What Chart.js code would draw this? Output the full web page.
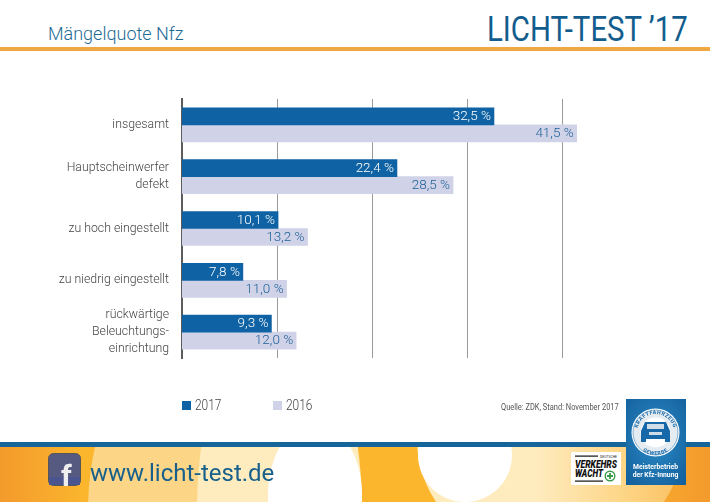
<!DOCTYPE html>
<html>
<head>
<meta charset="utf-8">
<script src="https://cdn.jsdelivr.net/npm/chart.js@4"></script>
<style>
    html, body { margin: 0; padding: 0; background: #fff; }
    #page { position: relative; width: 710px; height: 502px; overflow: hidden; font-family: Roboto, sans-serif; }
    #page div, #page span { position: absolute; white-space: nowrap; }
    canvas { position: absolute; left: 0; top: 0; }
    #title { left: 48px; top: 23px; font-size: 18px; color: #1d6a94; font-weight: 300; }
    #brand { left: 487px; top: 9px; font-size: 35px; font-weight: 400; color: #125d8e; transform: scaleX(0.84); transform-origin: left top; }
    #rule { left: 0; top: 47px; width: 710px; height: 4px; background: #f0a842; }
    #source { left: 501px; top: 402px; font-size: 9px; color: #555; transform: scaleX(0.83); transform-origin: left top; }
    #footer { left: 0; top: 446px; width: 710px; height: 56px; overflow: hidden;
        background: linear-gradient(90deg, #f39a2c 0, #fbb62e 85px, #fbb62e 600px, #f59f2e 690px, #f39a2c 710px); }
    #footerline { left: 0; top: 442px; width: 710px; height: 5px; background: #15659a; }
    .blob { border-radius: 50%; }
    #url { left: 90px; top: 459px; font-size: 24px; color: #17608c; }
</style>
</head>
<body>
<div id="page">
    <div id="footer">
        <div class="blob" style="left:88px;top:-136px;width:274px;height:400px;background:#fdd586"></div>
        <div class="blob" style="left:197px;top:-136px;width:165px;height:400px;background:#feebbe"></div>
        <div class="blob" style="left:268px;top:-24px;width:94px;height:146px;background:#fff"></div>
        <div class="blob" style="left:417px;top:-126px;width:266px;height:240px;background:linear-gradient(90deg, #feebbe 0, #feebbe 45%, #fdd586 78%, #fbc060 100%)"></div>
        <div class="blob" style="left:418px;top:-38px;width:94px;height:94px;background:#fff"></div>
    </div>
    <div id="footerline"></div>
    <div id="rule"></div>
    <div id="title">Mängelquote Nfz</div>
    <div id="brand">LICHT-TEST ’17</div>
    <canvas id="quote" width="710" height="502"></canvas>
    <div id="legend"></div>
    <div id="source">Quelle: ZDK, Stand: November 2017</div>
    <svg style="position:absolute;left:48px;top:453px" width="33" height="33" viewBox="0 0 33 33">
        <rect x="0.5" y="0.5" width="32" height="32" rx="5" fill="#565a80" stroke="#555"/>
        <rect x="1" y="24" width="31" height="8" fill="#4a5590"/>
        <text x="13" y="33" font-family="Roboto" font-weight="700" font-size="30" fill="#eee">f</text>
    </svg>
    <div id="url">www.licht-test.de</div>
    <svg style="position:absolute;left:571px;top:452px" width="50" height="33" viewBox="0 0 50 33">
        <rect width="50" height="33" fill="#fff"/>
        <rect x="4" y="3.500" width="23" height="1.200" fill="#111"/>
        <text x="29" y="5.500" font-family="Roboto" font-size="3.200" fill="#222" textLength="17" lengthAdjust="spacingAndGlyphs">DEUTSCHE</text>
        <text x="4" y="16" font-family="Roboto" font-style="italic" font-weight="900" font-size="10" fill="#111" textLength="42" lengthAdjust="spacingAndGlyphs">VERKEHRS</text>
        <text x="4" y="25" font-family="Roboto" font-style="italic" font-weight="900" font-size="10" fill="#111" textLength="28" lengthAdjust="spacingAndGlyphs">WACHT</text>
        <rect x="4" y="28.500" width="28" height="1.200" fill="#111"/>
        <circle cx="39" cy="24" r="4.800" fill="none" stroke="#3a9a4a" stroke-width="1.400"/>
        <path d="M39 21v6M36 24h6" stroke="#3a9a4a" stroke-width="1.800"/>
    </svg>
    <svg style="position:absolute;left:626px;top:399px" width="60" height="86" viewBox="0 0 60 86">
        <defs>
            <radialGradient id="badgeBlue" cx="50%" cy="45%" r="70%">
                <stop offset="0" stop-color="#2a8cc8"/>
                <stop offset="1" stop-color="#14609c"/>
            </radialGradient>
            <path id="arcTop" d="M11 33.500a18.500 18.500 0 0 1 37 0"/>
            <path id="arcBot" d="M7 33.500a22.500 22.500 0 0 0 45 0"/>
        </defs>
        <rect width="60" height="86" fill="url(#badgeBlue)"/>
        <circle cx="29.500" cy="33.500" r="24" fill="#fff"/>
        <circle cx="29.500" cy="33.500" r="22.500" fill="#e4ebf1" stroke="#1668a8" stroke-width="0.500"/>
        <circle cx="29.500" cy="33.500" r="15" fill="#fff"/>
        <text font-family="Roboto" font-size="5.200" font-weight="700" fill="#1668a8" letter-spacing="0.500"><textPath href="#arcTop" startOffset="50%" text-anchor="middle">KRAFTFAHRZEUG</textPath></text>
        <text font-family="Roboto" font-size="5.200" font-weight="700" fill="#1668a8" letter-spacing="0.500"><textPath href="#arcBot" startOffset="50%" text-anchor="middle">GEWERBE</textPath></text>
        <path d="M15 43v-11l4-9h21l4 9v11h-5v-3H20v3z" fill="#1668a8"/>
        <rect x="21" y="25" width="17" height="5" fill="#cfdde9"/>
        <rect x="23" y="33" width="13" height="3" fill="#cfdde9"/>
        <text x="29.500" y="70" text-anchor="middle" font-family="Roboto" font-weight="700" font-size="6.800" fill="#fff">Meisterbetrieb</text>
        <text x="29.500" y="78" text-anchor="middle" font-family="Roboto" font-weight="700" font-size="6.800" fill="#fff">der Kfz-Innung</text>
    </svg>
</div>
<script>
var categories = [
    "insgesamt",
    ["Hauptscheinwerfer", "defekt"],
    "zu hoch eingestellt",
    "zu niedrig eingestellt",
    ["rückwärtige", "Beleuchtungs-", "einrichtung"]
];
var seriesNames = ["2017", "2016"];
// bar lengths as drawn in the picture, the printed labels differ a little
var values2017 = [32.8, 22.6, 10.1, 6.4, 9.4];
var values2016 = [41.5, 28.5, 13.2, 11.0, 12.0];
var labels2017 = ["32,5 %", "22,4 %", "10,1 %", "7,8 %", "9,3 %"];
var labels2016 = ["41,5 %", "28,5 %", "13,2 %", "11,0 %", "12,0 %"];
var gridTicks = [10, 20, 30, 40];
var colors = ["#0f62a3", "#d0d3e8"];
var labelColors = ["#ffffff", "#1d5f96"];

var barLabels = {
    id: "barLabels",
    afterDatasetsDraw: function (chart) {
        var ctx = chart.ctx;
        var texts = [labels2017, labels2016];
        ctx.save();
        ctx.font = "300 13.5px Roboto";
        ctx.textAlign = "right";
        ctx.textBaseline = "middle";
        chart.data.datasets.forEach(function (ds, i) {
            chart.getDatasetMeta(i).data.forEach(function (bar, j) {
                ctx.fillStyle = labelColors[i];
                ctx.fillText(texts[i][j], bar.x - 3, bar.y + 0.5);
            });
        });
        ctx.restore();
    }
};

new Chart(document.getElementById("quote").getContext("2d"), {
    type: "bar",
    data: {
        labels: categories,
        datasets: [
            { label: seriesNames[0], data: values2017, backgroundColor: colors[0], barThickness: 17 },
            { label: seriesNames[1], data: values2016, backgroundColor: colors[1], barThickness: 17 }
        ]
    },
    options: {
        indexAxis: "y",
        responsive: false,
        animation: false,
        layout: { padding: { left: 0, top: 99, bottom: 144, right: 100 } },
        plugins: {
            legend: { display: false },
            tooltip: { enabled: false }
        },
        scales: {
            x: {
                min: 0,
                max: 45,
                afterBuildTicks: function (scale) {
                    scale.ticks = gridTicks.map(function (v) { return { value: v }; });
                },
                ticks: { display: false },
                border: { display: false },
                grid: { color: "#9a9a9a", lineWidth: 1, drawTicks: false }
            },
            y: {
                afterFit: function (scale) { scale.width = 182; },
                ticks: {
                    autoSkip: false,
                    color: "#444",
                    padding: 13,
                    font: { family: "Roboto", size: 12.3, weight: 300, lineHeight: 1.36 }
                },
                border: { color: "#5c5c5c", width: 2 },
                grid: { display: false, drawTicks: false }
            }
        }
    },
    plugins: [barLabels]
});

// legend under the plot
var legendX = [182, 273];
var legend = document.getElementById("legend");
seriesNames.forEach(function (name, i) {
    var box = document.createElement("span");
    box.style.cssText = "left:" + legendX[i] + "px;top:401px;width:9px;height:9px;background:" + colors[i];
    var txt = document.createElement("span");
    txt.style.cssText = "left:" + (legendX[i] + 13) + "px;top:397px;font-size:14px;font-weight:300;color:#444;transform:scaleX(0.85);transform-origin:left top";
    txt.textContent = name;
    legend.appendChild(box);
    legend.appendChild(txt);
});
</script>
</body>
</html>
